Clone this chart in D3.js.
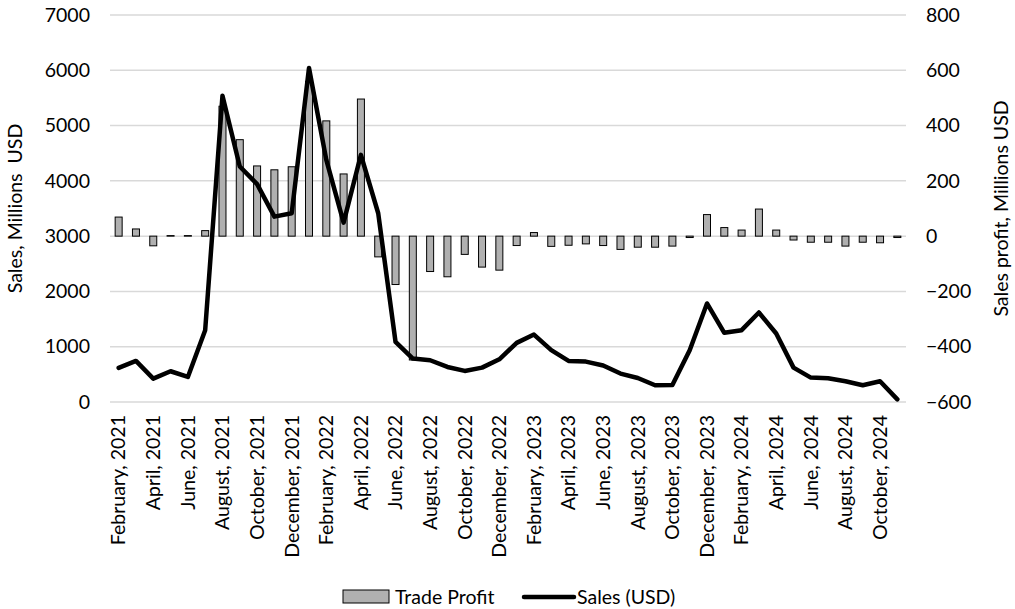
<!DOCTYPE html>
<html>
<head>
<meta charset="utf-8">
<script src="https://cdn.jsdelivr.net/npm/d3@7"></script>
<style>
  body { margin: 0; background: #fff; }
  svg { font-family: Lato, "Open Sans", sans-serif; }
</style>
</head>
<body>
<svg width="1015" height="609"></svg>
<script>
// meses (Feb 2021 - Nov 2024)
const months = [
  "February, 2021","March, 2021","April, 2021","May, 2021","June, 2021","July, 2021","August, 2021","September, 2021","October, 2021","November, 2021","December, 2021",
  "January, 2022","February, 2022","March, 2022","April, 2022","May, 2022","June, 2022","July, 2022","August, 2022","September, 2022","October, 2022","November, 2022","December, 2022",
  "January, 2023","February, 2023","March, 2023","April, 2023","May, 2023","June, 2023","July, 2023","August, 2023","September, 2023","October, 2023","November, 2023","December, 2023",
  "January, 2024","February, 2024","March, 2024","April, 2024","May, 2024","June, 2024","July, 2024","August, 2024","September, 2024","October, 2024","November, 2024"
];

// ventas, millones USD (eje izquierdo)
const sales = [
  616, 743, 423, 556, 453, 1299, 5541, 4260, 3940, 3353, 3414,
  6042, 4381, 3245, 4471, 3414, 1088, 785, 755, 634, 562, 622, 773,
  1069, 1220, 937, 743, 731, 659, 514, 435, 302, 308, 937, 1782,
  1251, 1299, 1619, 1239, 622, 441, 429, 375, 302, 375, 48
];

// ganancia, millones USD (eje derecho)
const profit = [
  69, 26, -35, 2, 2, 20, 470, 349, 254, 240, 251,
  560, 417, 225, 496, -75, -175, -448, -128, -147, -66, -112, -123,
  -34, 13, -37, -33, -28, -34, -48, -40, -40, -36, -5, 78,
  31, 22, 98, 22, -14, -22, -22, -36, -22, -24, -5
];

const leftTicks = [0, 1000, 2000, 3000, 4000, 5000, 6000, 7000];
const rightTicks = [-600, -400, -200, 0, 200, 400, 600, 800];

const data = months.map((m, i) => ({ month: m, sales: sales[i], profit: profit[i] }));

const svg = d3.select("svg");
const margin = { top: 15, right: 109, bottom: 207, left: 110 };
const width = +svg.attr("width") - margin.left - margin.right;
const height = +svg.attr("height") - margin.top - margin.bottom;

const g = svg.append("g")
  .attr("transform", `translate(${margin.left},${margin.top})`);

const x = d3.scaleBand().domain(months).range([0, width]).paddingInner(0);
const yL = d3.scaleLinear().domain([0, 7000]).range([height, 0]);
const yR = d3.scaleLinear().domain([-600, 800]).range([height, 0]);

// grilla
g.append("g")
  .selectAll("line")
  .data(leftTicks)
  .join("line")
  .attr("x1", 0).attr("x2", width)
  .attr("y1", d => yL(d)).attr("y2", d => yL(d))
  .attr("stroke", "#d9d9d9")
  .attr("stroke-width", 1.5);

// barras (ganancia)
const barW = 7;
g.append("g")
  .selectAll("rect")
  .data(data)
  .join("rect")
  .attr("x", d => x(d.month) + x.bandwidth() / 2 - barW / 2)
  .attr("y", d => yR(Math.max(0, d.profit)))
  .attr("width", barW)
  .attr("height", d => Math.abs(yR(d.profit) - yR(0)))
  .attr("fill", "#b0b0b0")
  .attr("stroke", "#000")
  .attr("stroke-width", 1);

// linea (ventas)
const line = d3.line()
  .x(d => x(d.month) + x.bandwidth() / 2)
  .y(d => yL(d.sales));

g.append("path")
  .datum(data)
  .attr("d", line)
  .attr("fill", "none")
  .attr("stroke", "#000")
  .attr("stroke-width", 4.5)
  .attr("stroke-linejoin", "round")
  .attr("stroke-linecap", "round");

// ejes
const fontSize = "19.5px";

const yAxisL = d3.axisLeft(yL).tickValues(leftTicks).tickFormat(d3.format("d")).tickSize(0).tickPadding(20);
g.append("g")
  .call(yAxisL)
  .call(a => a.select(".domain").remove())
  .selectAll("text")
  .attr("font-size", fontSize)
  .attr("font-family", "Lato, 'Open Sans', sans-serif")
  .attr("fill", "#000");

const yAxisR = d3.axisRight(yR).tickValues(rightTicks).tickFormat(d3.format("d")).tickSize(0).tickPadding(20);
g.append("g")
  .attr("transform", `translate(${width},0)`)
  .call(yAxisR)
  .call(a => a.select(".domain").remove())
  .selectAll("text")
  .attr("font-size", fontSize)
  .attr("font-family", "Lato, 'Open Sans', sans-serif")
  .attr("fill", "#000");

const xAxis = d3.axisBottom(x)
  .tickValues(months.filter((m, i) => i % 2 === 0))
  .tickSize(0);

g.append("g")
  .attr("transform", `translate(0,${height})`)
  .call(xAxis)
  .call(a => a.select(".domain").remove())
  .selectAll("text")
  .attr("font-size", fontSize)
  .attr("font-family", "Lato, 'Open Sans', sans-serif")
  .attr("fill", "#000")
  .attr("transform", "rotate(-90)")
  .attr("text-anchor", "end")
  .attr("x", -13)
  .attr("y", 0)
  .attr("dy", "0.35em");

// titulos de ejes
svg.append("text")
  .attr("transform", `translate(22, ${margin.top + height / 2}) rotate(-90)`)
  .attr("text-anchor", "middle")
  .attr("font-size", fontSize)
  .style("white-space", "pre")
  .text("Sales, Millions  USD");

svg.append("text")
  .attr("transform", `translate(1008, ${margin.top + height / 2}) rotate(-90)`)
  .attr("text-anchor", "middle")
  .attr("font-size", fontSize)
  .text("Sales profit, Millions USD");

// leyenda
const legend = svg.append("g");
legend.append("rect")
  .attr("x", 343).attr("y", 590)
  .attr("width", 46).attr("height", 13)
  .attr("fill", "#b0b0b0")
  .attr("stroke", "#000");
legend.append("text")
  .attr("x", 395).attr("y", 604)
  .attr("font-size", fontSize)
  .text("Trade Profit");
legend.append("line")
  .attr("x1", 524).attr("x2", 574)
  .attr("y1", 597).attr("y2", 597)
  .attr("stroke", "#000")
  .attr("stroke-width", 4.5)
  .attr("stroke-linecap", "round");
legend.append("text")
  .attr("x", 577).attr("y", 604)
  .attr("font-size", fontSize)
  .text("Sales (USD)");
</script>
</body>
</html>
